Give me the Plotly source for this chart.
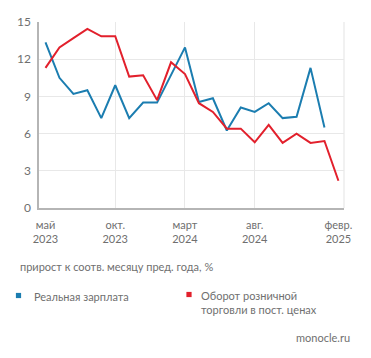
import plotly.graph_objects as go

months = list(range(22))
tick_pos = [0, 5, 10, 15, 21]
tick_labels = ["май<br>2023", "окт.<br>2023", "март<br>2024", "авг.<br>2024", "февр.<br>2025"]

wages = [13.35, 10.5, 9.2, 9.5, 7.25, 9.9, 7.25, 8.5, 8.5, 10.7, 12.95,
         8.55, 8.85, 6.25, 8.1, 7.75, 8.45, 7.25, 7.35, 11.3, 6.5]
retail = [11.3, 12.95, 13.7, 14.45, 13.85, 13.85, 10.6, 10.7, 8.7, 11.75, 10.8,
          8.45, 7.75, 6.4, 6.4, 5.3, 6.7, 5.25, 6.0, 5.25, 5.4, 2.2]

name_wages = "Реальная зарплата"
name_retail = "Оборот розничной<br>торговли в пост. ценах"
caption = "прирост к соотв. месяцу пред. года, %"
source = "monocle.ru"

BLUE = "#1b7db0"
RED = "#e2202c"
TXT = "#6f6f6f"
GRID = "#e8e8e8"
AXIS = "#b5b5b5"
FONT = "Lato, Open Sans, sans-serif"

# page has an 8px body margin; work in page pixels and convert
OFF = 8
W, H = 371 - 2 * OFF, 358 - 2 * OFF
L, R, T, B = 39 - OFF, 344 - OFF, 22 - OFF, 208 - OFF


def px_x(px):
    return (px - OFF - L) / (R - L)


def px_y(py):
    return (B - (py - OFF)) / (B - T)


fig = go.Figure()
fig.add_trace(go.Scatter(x=months[:len(wages)], y=wages, mode="lines",
                         name=name_wages, line=dict(color=BLUE, width=2),
                         showlegend=False))
fig.add_trace(go.Scatter(x=months[:len(retail)], y=retail, mode="lines",
                         name=name_retail, line=dict(color=RED, width=2),
                         showlegend=False))

shapes = [dict(type="line", xref="paper", yref="paper", x0=1, x1=1, y0=0, y1=1,
               line=dict(color=GRID, width=1.2), layer="below")]
# legend swatches
for cx, cy, col in [(18.5, 295.5, BLUE), (189, 294.5, RED)]:
    shapes.append(dict(type="rect", xref="paper", yref="paper",
                       x0=px_x(cx - 2.6), x1=px_x(cx + 2.6),
                       y0=px_y(cy + 2.6), y1=px_y(cy - 2.6),
                       fillcolor=col, line=dict(width=0)))

annotations = [
    dict(text=caption, xref="paper", yref="paper", x=px_x(18), y=px_y(266),
         xanchor="left", yanchor="middle", showarrow=False,
         font=dict(size=11, color=TXT)),
    dict(text=source, xref="paper", yref="paper", x=px_x(352), y=px_y(337),
         xanchor="right", yanchor="middle", showarrow=False,
         font=dict(size=11, color=TXT)),
    dict(text=name_wages, xref="paper", yref="paper", x=px_x(32), y=px_y(288),
         xanchor="left", yanchor="top", align="left", showarrow=False,
         font=dict(size=11, color=TXT)),
    dict(text=name_retail, xref="paper", yref="paper", x=px_x(199), y=px_y(287),
         xanchor="left", yanchor="top", align="left", showarrow=False,
         font=dict(size=11, color=TXT)),
]

fig.update_layout(
    width=W, height=H,
    margin=dict(l=L, r=W - R, t=T, b=H - B, autoexpand=False),
    paper_bgcolor="white", plot_bgcolor="white",
    font=dict(family=FONT, size=11, color=TXT),
    showlegend=False,
    xaxis=dict(range=[-0.466, 21.4], tickmode="array", tickvals=tick_pos,
               ticktext=tick_labels, showgrid=False, zeroline=False,
               showline=True, linecolor=AXIS, linewidth=1.5,
               ticks="outside", ticklen=6, tickcolor="rgba(0,0,0,0)",
               tickfont=dict(size=11, color=TXT),
               minor=dict(tickvals=[5, 10, 15], showgrid=True, gridcolor=GRID,
                          gridwidth=1.2, ticks="")),
    yaxis=dict(range=[0, 15], tickvals=[0, 3, 6, 9, 12, 15], showgrid=True,
               gridcolor=GRID, gridwidth=1.2, zeroline=False,
               showline=True, linecolor=AXIS, linewidth=1.5,
               ticks="outside", ticklen=4, tickcolor="rgba(0,0,0,0)",
               tickfont=dict(size=12, color=TXT)),
    shapes=shapes,
    annotations=annotations,
)

fig.write_html("out.html")
